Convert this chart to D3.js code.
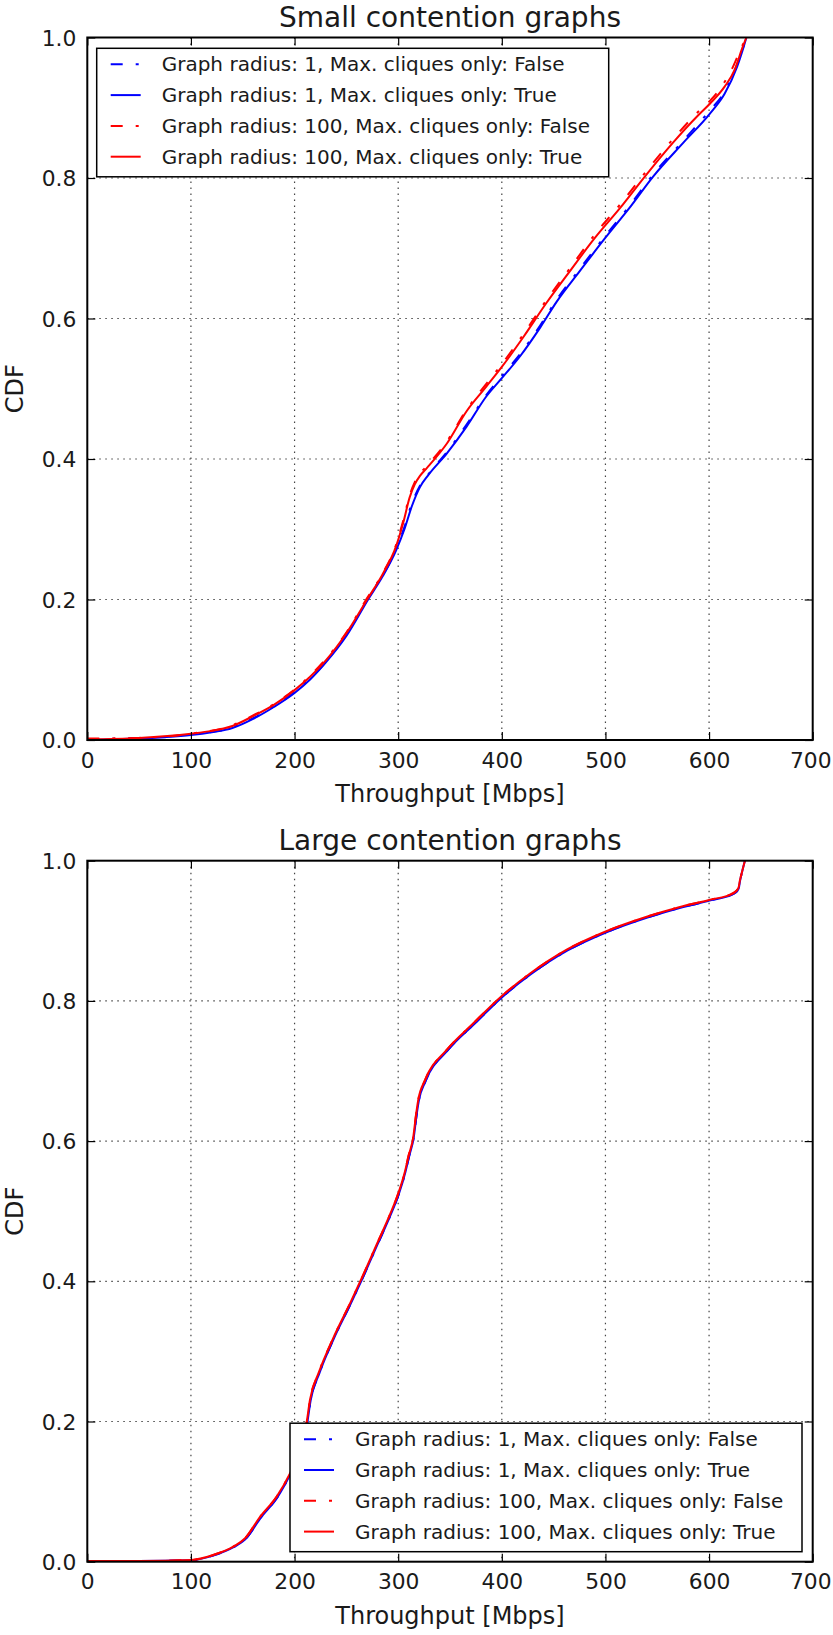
<!DOCTYPE html>
<html>
<head>
<meta charset="utf-8">
<script src="https://cdn.jsdelivr.net/npm/d3@7"></script>
<style>
  body { margin: 0; background: #fff; }
  svg { display: block; }
  text { font-family: "DejaVu Sans", sans-serif; fill: #1a1a1a; }
</style>
</head>
<body>
<div id="chart"></div>
<script>
const width = 833, height = 1635;

const xTicks = [0, 100, 200, 300, 400, 500, 600, 700];
const yTicks = [0, 0.2, 0.4, 0.6, 0.8, 1.0];
const seriesLabels = [
    "Graph radius: 1, Max. cliques only: False",
    "Graph radius: 1, Max. cliques only: True",
    "Graph radius: 100, Max. cliques only: False",
    "Graph radius: 100, Max. cliques only: True"
];
const seriesColors = ["#0000ff", "#0000ff", "#ff0000", "#ff0000"];
const seriesDash = ["12,13,3,13", null, "12,13,3,13", null];

// Small contention graphs: [throughput, cdf]
const smallR1False = [[0,0.001],[50,0.003],[100,0.008],[140,0.018],[160,0.031],[180,0.048],[200,0.068],[230,0.111],[250,0.15],[271,0.202],[298,0.272],[306,0.303],[313,0.336],[321,0.362],[330,0.38],[347,0.41],[366,0.449],[385,0.491],[400,0.518],[418,0.55],[437,0.59],[453,0.627],[475,0.67],[500,0.718],[523,0.76],[546,0.805],[575,0.853],[600,0.895],[615,0.923],[626,0.958],[632,0.982],[636,1.0]];
const smallR1True = [[0,0],[25,0.001],[50,0.002],[75,0.004],[100,0.007],[120,0.011],[140,0.017],[160,0.03],[180,0.047],[200,0.067],[215,0.086],[230,0.11],[250,0.148],[271,0.2],[285,0.233],[298,0.27],[306,0.3],[313,0.332],[321,0.36],[329,0.377],[347,0.408],[366,0.446],[385,0.489],[400,0.515],[418,0.547],[437,0.587],[453,0.624],[475,0.667],[500,0.715],[523,0.757],[546,0.802],[575,0.85],[601,0.892],[615,0.92],[627,0.958],[632,0.98],[636,1.0]];
const smallR100False = [[0,0.002],[50,0.003],[100,0.009],[140,0.021],[160,0.035],[180,0.051],[200,0.072],[230,0.115],[250,0.153],[270,0.202],[285,0.237],[298,0.278],[305,0.313],[311,0.348],[316,0.367],[321,0.379],[327,0.389],[347,0.425],[366,0.47],[385,0.507],[400,0.535],[421,0.578],[443,0.626],[465,0.67],[490,0.72],[514,0.762],[538,0.807],[565,0.855],[590,0.895],[601,0.91],[612,0.93],[622,0.955],[631,0.985],[636,1.0]];
const smallR100True = [[0,0.001],[50,0.003],[100,0.009],[120,0.013],[140,0.02],[160,0.034],[180,0.05],[200,0.071],[215,0.09],[230,0.113],[250,0.152],[270,0.2],[285,0.236],[298,0.276],[305,0.31],[311,0.345],[316,0.364],[321,0.376],[327,0.386],[347,0.422],[366,0.468],[385,0.503],[400,0.531],[421,0.574],[443,0.622],[465,0.666],[490,0.715],[514,0.757],[538,0.802],[565,0.85],[590,0.89],[601,0.906],[615,0.93],[625,0.955],[632,0.985],[636,1.0]];

// Large contention graphs
const largeR1False = [[0,0.001],[50,0.001],[100,0.002],[122,0.009],[141.5,0.021],[152.5,0.032],[167.5,0.063],[183.5,0.092],[196,0.125],[200.5,0.139],[205.5,0.159],[212,0.196],[215.5,0.23],[224,0.269],[237.5,0.317],[254.5,0.369],[265.5,0.404],[280.5,0.454],[292.5,0.494],[300.5,0.524],[307,0.556],[310.5,0.578],[315,0.605],[317.5,0.634],[320,0.658],[326.5,0.686],[347.5,0.729],[373.5,0.767],[400,0.805],[428,0.838],[463.5,0.872],[501,0.898],[540.5,0.919],[572.5,0.933],[600.5,0.943],[624,0.953],[628.5,0.96],[630,0.972],[633,0.991],[634.6,1.0]];
const largeR1True = [[0,0.001],[50,0.001],[100,0.002],[122,0.009],[141.5,0.021],[152.5,0.032],[167.5,0.063],[183.5,0.092],[196,0.125],[200.5,0.139],[205.5,0.159],[212,0.196],[215.5,0.23],[224,0.269],[237.5,0.317],[254.5,0.369],[265.5,0.404],[280.5,0.454],[292.5,0.494],[300.5,0.524],[307,0.556],[310.5,0.578],[315,0.605],[317.5,0.634],[320,0.658],[326.5,0.686],[347.5,0.729],[373.5,0.767],[400,0.805],[428,0.838],[463.5,0.872],[501,0.898],[540.5,0.919],[572.5,0.933],[600.5,0.943],[624,0.953],[628.5,0.96],[630,0.972],[633,0.991],[634.6,1.0]];
const largeR100False = [[0,0.001],[50,0.001],[100,0.0024],[121.6,0.0096],[140.9,0.0214],[152,0.033],[166.7,0.064],[182.8,0.093],[195.6,0.126],[200,0.14],[205,0.16],[211.5,0.197],[214.9,0.231],[223.4,0.27],[237,0.318],[254,0.37],[265,0.405],[280,0.455],[292,0.495],[300,0.525],[306.6,0.557],[310,0.579],[314.6,0.606],[317,0.635],[319.4,0.659],[325.9,0.687],[346.8,0.73],[372.5,0.768],[399.2,0.806],[427.2,0.839],[462.6,0.873],[500.2,0.899],[539.8,0.92],[571.9,0.934],[600,0.944],[623.4,0.954],[628.2,0.961],[629.8,0.972],[633,0.991],[634.6,1.0]];
const largeR100True = [[0,0.001],[50,0.001],[100,0.0024],[121.6,0.0096],[140.9,0.0214],[152,0.033],[166.7,0.064],[182.8,0.093],[195.6,0.126],[200,0.14],[205,0.16],[211.5,0.197],[214.9,0.231],[223.4,0.27],[237,0.318],[254,0.37],[265,0.405],[280,0.455],[292,0.495],[300,0.525],[306.6,0.557],[310,0.579],[314.6,0.606],[317,0.635],[319.4,0.659],[325.9,0.687],[346.8,0.73],[372.5,0.768],[399.2,0.806],[427.2,0.839],[462.6,0.873],[500.2,0.899],[539.8,0.92],[571.9,0.934],[600,0.944],[623.4,0.9535],[628.2,0.9606],[629.8,0.972],[633,0.991],[634.6,1.0]];

const svg = d3.select("#chart")
    .append("svg")
    .attr("width", width)
    .attr("height", height);

function drawPanel(opts) {
    const w = 725.4, h = opts.h;
    const g = svg.append("g")
        .attr("transform", `translate(${opts.left},${opts.top})`);

    const x = d3.scaleLinear().domain([0, 700]).range([0, w]);
    const y = d3.scaleLinear().domain([0, 1]).range([h, 0]);

    // dotted grid
    g.append("g").selectAll("line")
        .data(xTicks.slice(1, -1))
        .enter().append("line")
        .attr("x1", d => x(d)).attr("x2", d => x(d))
        .attr("y1", 0).attr("y2", h)
        .attr("stroke", "#444").attr("stroke-width", 1.2)
        .attr("stroke-dasharray", "1.5,4.5");
    g.append("g").selectAll("line")
        .data(yTicks.slice(1, -1))
        .enter().append("line")
        .attr("x1", 0).attr("x2", w)
        .attr("y1", d => y(d)).attr("y2", d => y(d))
        .attr("stroke", "#444").attr("stroke-width", 1.2)
        .attr("stroke-dasharray", "1.5,4.5");

    // curves
    const clipId = "clip-" + opts.id;
    g.append("clipPath").attr("id", clipId)
        .append("rect").attr("width", w).attr("height", h);
    const line = d3.line()
        .x(d => x(d[0]))
        .y(d => y(d[1]))
        .curve(d3.curveMonotoneX);
    g.append("g").attr("clip-path", `url(#${clipId})`)
        .selectAll("path")
        .data(opts.series)
        .enter().append("path")
        .attr("d", line)
        .attr("fill", "none")
        .attr("stroke", (d, i) => seriesColors[i])
        .attr("stroke-width", 2)
        .attr("stroke-linejoin", "round")
        .attr("stroke-dasharray", (d, i) => seriesDash[i]);

    // axes with inward ticks on all sides
    const bottom = g.append("g").attr("transform", `translate(0,${h})`)
        .call(d3.axisBottom(x).tickValues(xTicks).tickSizeInner(-8).tickSizeOuter(0).tickPadding(12.3));
    const top = g.append("g")
        .call(d3.axisTop(x).tickValues(xTicks).tickSizeInner(-8).tickSizeOuter(0).tickFormat(""));
    const left = g.append("g")
        .call(d3.axisLeft(y).tickValues(yTicks).tickSizeInner(-8).tickSizeOuter(0).tickPadding(11).tickFormat(d3.format(".1f")));
    const right = g.append("g").attr("transform", `translate(${w},0)`)
        .call(d3.axisRight(y).tickValues(yTicks).tickSizeInner(-8).tickSizeOuter(0).tickFormat(""));
    [bottom, top, left, right].forEach(a => {
        a.select(".domain").remove();
        a.selectAll(".tick line").attr("stroke", "#000").attr("stroke-width", 1.2);
        a.selectAll("text").style("font-size", "21.8px").attr("fill", "#1a1a1a");
    });
    left.selectAll("text").attr("dy", "0.35em");
    // keep the last x label inside the page edge
    bottom.selectAll(".tick text").filter(d => d === 700).attr("dx", -2.5);

    // spines
    g.append("rect")
        .attr("width", w).attr("height", h)
        .attr("fill", "none").attr("stroke", "#000").attr("stroke-width", 2);

    // title and labels
    g.append("text")
        .attr("x", w / 2).attr("y", -10.8)
        .attr("text-anchor", "middle")
        .style("font-size", "28px")
        .text(opts.title);
    g.append("text")
        .attr("x", w / 2).attr("y", h + 62)
        .attr("text-anchor", "middle")
        .style("font-size", "24px")
        .text("Throughput [Mbps]");
    g.append("text")
        .attr("transform", `translate(${23 - opts.left},${h / 2}) rotate(-90)`)
        .attr("text-anchor", "middle")
        .style("font-size", "24px")
        .text("CDF");

    // legend
    const lw = 512, lh = 128.5;
    const lx = opts.legend === "upper left" ? 9.4 : w - 10.7 - lw;
    const ly = opts.legend === "upper left" ? 10.8 : h - 10 - lh;
    const legend = g.append("g").attr("transform", `translate(${lx},${ly})`);
    legend.append("rect")
        .attr("width", lw).attr("height", lh)
        .attr("fill", "#fff").attr("stroke", "#000").attr("stroke-width", 1.5);
    const rows = legend.selectAll("g.row")
        .data(seriesLabels)
        .enter().append("g")
        .attr("class", "row")
        .attr("transform", (d, i) => `translate(0,${16 + i * 30.8})`);
    rows.append("line")
        .attr("x1", 14).attr("x2", 44)
        .attr("stroke", (d, i) => seriesColors[i])
        .attr("stroke-width", 2)
        .attr("stroke-dasharray", (d, i) => seriesDash[i]);
    rows.append("text")
        .attr("x", 65).attr("dy", "0.35em")
        .style("font-size", "20px")
        .text(d => d);
}

drawPanel({
    id: "small", title: "Small contention graphs",
    left: 87.3, top: 37.5, h: 702.5,
    series: [smallR1False, smallR1True, smallR100False, smallR100True],
    legend: "upper left"
});

drawPanel({
    id: "large", title: "Large contention graphs",
    left: 87.3, top: 860.7, h: 701,
    series: [largeR1False, largeR1True, largeR100False, largeR100True],
    legend: "lower right"
});
</script>
</body>
</html>
